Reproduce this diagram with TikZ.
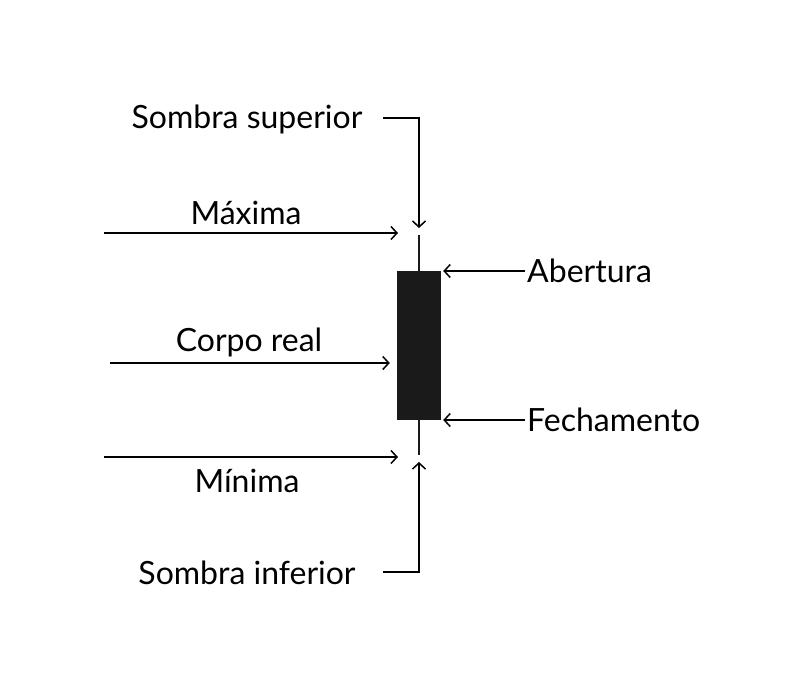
\documentclass[tikz,border=0pt]{standalone}
\usepackage{fontspec}
\setmainfont{Lato}
\usetikzlibrary{arrows.meta}

\definecolor{candle}{HTML}{1A1A1A}

\begin{document}
\begin{tikzpicture}[x=1pt,y=-1pt,
	lbl/.style={font=\fontsize{32}{35}\selectfont, inner sep=0pt},
	seta/.style={line width=1.5pt, -{Straight Barb[length=6pt,width=13pt,line width=1.5pt]}}]
		\useasboundingbox (0,0) rectangle (810,692);
		%\fill[lightgray] (0,0) rectangle (810,692);
		\node[fill=candle, minimum width=44pt, minimum height=149pt, inner sep=0pt] (corpo) at (419,345.5) {};
		\coordinate (topo) at (419,235);
		\coordinate (base) at (419,455);
		\draw[line width=2.5pt, candle] (corpo.north) -- (topo);
		\draw[line width=2.5pt, candle] (corpo.south) -- (base);
		
		\node[lbl] (sup) at (247,119) {Sombra superior};
		\coordinate (supini) at (383,118);
		\draw[seta] (supini) -| ([yshift=7pt]topo);
		
		\node[lbl] (max) at (246,213) {Máxima};
		\coordinate (maxini) at (104,233);
		\draw[seta] (maxini) -- ([xshift=-21pt]maxini -| topo);
		
		\node[lbl, anchor=west] (abe) at (527,271) {Abertura};
		\draw[seta] ([xshift=-2pt]abe.west) -- ([xshift=2pt]abe.west -| corpo.east);
		
		\node[lbl] (real) at (249,342) {Corpo real};
		\coordinate (realini) at (110,363);
		\draw[seta] (realini) -- ([xshift=-7pt]realini -| corpo.west);
		
		\node[lbl, anchor=west] (fec) at (527,420) {Fechamento};
		\draw[seta] ([xshift=-2pt]fec.west) -- ([xshift=2pt]fec.west -| corpo.east);
		
		\node[lbl] (min) at (247,481) {Mínima};
		\coordinate (minini) at (104,457);
		\draw[seta] (minini) -- ([xshift=-21pt]minini -| base);
		
		\node[lbl] (inf) at (247,573) {Sombra inferior};
		\coordinate (infini) at (383,572);
		\draw[seta] (infini) -| ([yshift=-7pt]base);
	\end{tikzpicture}
\end{document}
